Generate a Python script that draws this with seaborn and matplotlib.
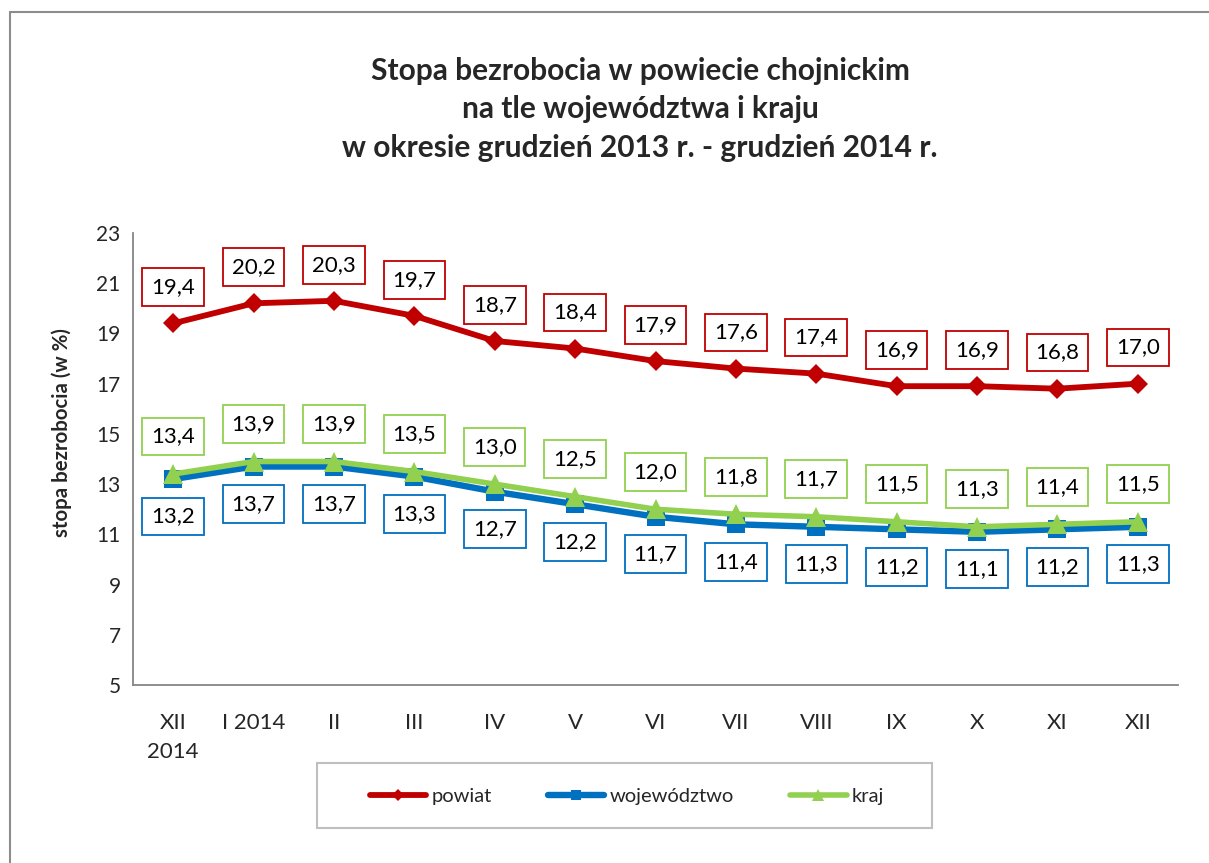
import matplotlib
matplotlib.use("Agg")
import matplotlib.pyplot as plt
import seaborn as sns
import numpy as np
import pandas as pd
from matplotlib.patches import Rectangle
from matplotlib.lines import Line2D

# ---- data ----
months = ["XII\n2014", "I 2014", "II", "III", "IV", "V", "VI", "VII", "VIII", "IX", "X", "XI", "XII"]
powiat = [19.4, 20.2, 20.3, 19.7, 18.7, 18.4, 17.9, 17.6, 17.4, 16.9, 16.9, 16.8, 17.0]
wojewodztwo = [13.2, 13.7, 13.7, 13.3, 12.7, 12.2, 11.7, 11.4, 11.3, 11.2, 11.1, 11.2, 11.3]
kraj = [13.4, 13.9, 13.9, 13.5, 13.0, 12.5, 12.0, 11.8, 11.7, 11.5, 11.3, 11.4, 11.5]
series_names = ["powiat", "województwo", "kraj"]
y_ticks = [5, 7, 9, 11, 13, 15, 17, 19, 21, 23]
title_lines = ["Stopa bezrobocia w powiecie chojnickim",
               "na tle województwa i kraju",
               "w okresie grudzień 2013 r. - grudzień 2014 r."]
ylabel = "stopa bezrobocia (w %)"

sns.set_style("white")
plt.rcParams["font.family"] = ["Lato", "DejaVu Sans"]

W, H = 1209, 863
fig = plt.figure(figsize=(W / 100, H / 100), dpi=100)
ax = fig.add_axes([133 / W, 1 - 685 / H, (1178 - 133) / W, (685 - 233) / H])

x = np.arange(len(months))
styles = [
    dict(color="#C00000", marker="D", markersize=10, linewidth=4.2, zorder=3),
    dict(color="#0070C0", marker="s", markersize=13, linewidth=4.6, zorder=4),
    dict(color="#92D050", marker="^", markersize=14, linewidth=4.0, zorder=5),
]
data = [powiat, wojewodztwo, kraj]
offsets = [26, -27, 27]

for name, vals, st, off in zip(series_names, data, styles, offsets):
    df = pd.DataFrame({"x": x, "y": vals})
    sns.lineplot(data=df, x="x", y="y", ax=ax, color=st["color"], marker=st["marker"],
                 markersize=st["markersize"], linewidth=st["linewidth"],
                 markeredgewidth=0, zorder=st["zorder"], legend=False)
    for xi, v in zip(x, vals):
        ax.annotate(f"{v:.1f}".replace(".", ","), xy=(xi, v), xytext=(0, off),
                    textcoords="offset points", ha="center", va="center",
                    fontsize=16, color="black", zorder=10,
                    bbox=dict(boxstyle="square,pad=0.4", fc="white",
                              ec=st["color"], lw=1.3))

ax.set_xlim(-0.5, len(months) - 0.5)
ax.set_ylim(5, 23)
ax.set_yticks(y_ticks)
ax.set_yticklabels([str(t) for t in y_ticks], fontsize=15)
ax.set_xticks(np.arange(len(months) + 1) - 0.5)
ax.set_xticklabels([])
ax.set_xticks(x, minor=True)
ax.set_xticklabels(months, minor=True, fontsize=16, linespacing=1.55)
ax.tick_params(axis="x", which="major", length=6, width=1.2, color="#868686", direction="out")
ax.tick_params(axis="x", which="minor", length=0, pad=20)
ax.tick_params(axis="y", length=4, width=1.2, color="#868686", direction="out", pad=5)
ax.set_xlabel("")
ax.set_ylabel("")
for s in ["top", "right"]:
    ax.spines[s].set_visible(False)
for s in ["left", "bottom"]:
    ax.spines[s].set_color("#868686")
    ax.spines[s].set_linewidth(1.3)
ax.grid(False)

# title
baselines = [80, 118, 157]
for line, b in zip(title_lines, baselines):
    fig.text(640 / W, 1 - b / H, line, ha="center", va="baseline",
             fontsize=21.5, fontweight="bold")

fig.text(62 / W, 1 - 433 / H, ylabel, rotation=90, ha="center", va="center",
         fontsize=14.7, fontweight="bold")

# outer chart frame (left & top visible)
fig.add_artist(Line2D([10 / W, 10 / W], [0, 1 - 12 / H], transform=fig.transFigure,
                      color="#8c8c8c", lw=1.5))
fig.add_artist(Line2D([10 / W, 1], [1 - 12 / H, 1 - 12 / H], transform=fig.transFigure,
                      color="#8c8c8c", lw=1.5))

# legend frame
fig.add_artist(Rectangle((317 / W, 1 - 828 / H), (932 - 317) / W, (828 - 763) / H,
                         transform=fig.transFigure, fill=False, ec="#BFBFBF", lw=1.5))
handles = [Line2D([], [], color=st["color"], marker=st["marker"],
                  markersize=st["markersize"] * 0.6, linewidth=st["linewidth"],
                  markeredgewidth=0, solid_capstyle="round") for st in styles]
fig.legend(handles, series_names, loc="center", bbox_to_anchor=(627 / W, 1 - 796 / H),
           ncol=3, frameon=False, fontsize=14.5, handlelength=2.8, handletextpad=0.25,
           columnspacing=2.8)

fig.savefig("out.png", dpi=100)
